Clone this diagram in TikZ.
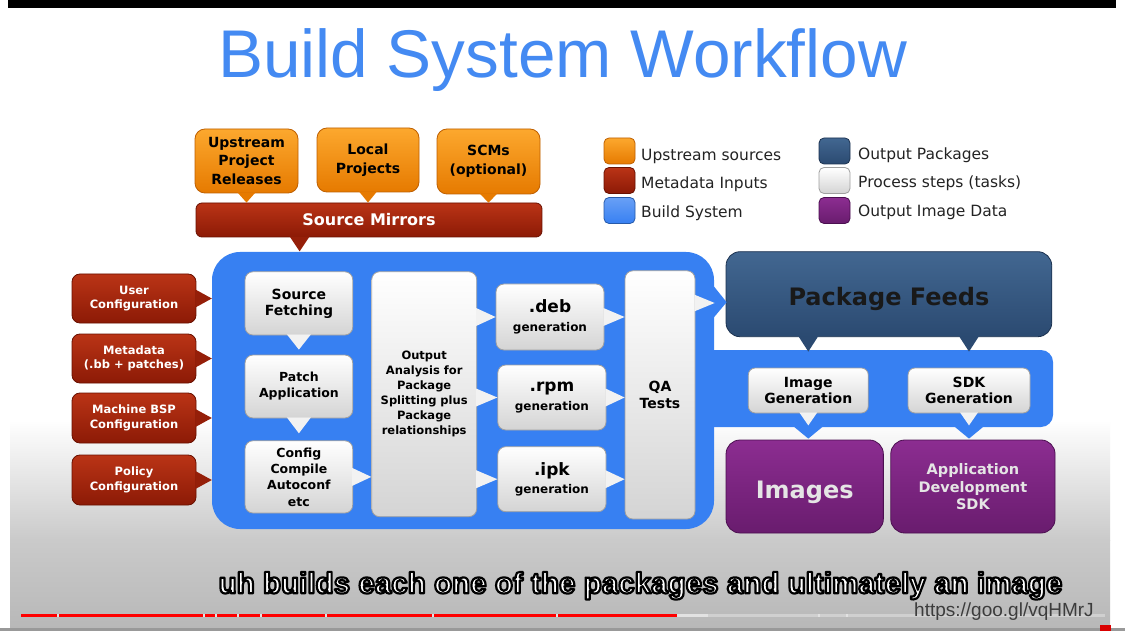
\documentclass[tikz,border=0pt]{standalone}
\usepackage{graphicx}
\usepackage{fontspec}
\setmainfont{DejaVu Sans}
\newfontfamily\arialfont{Liberation Sans}
\usetikzlibrary{calc}
\definecolor{titleblue}{RGB}{68,138,242}
\definecolor{bsblue}{RGB}{55,128,242}
\definecolor{orT}{RGB}{252,168,46}
\definecolor{orB}{RGB}{230,122,0}
\definecolor{orD}{RGB}{190,95,0}
\definecolor{rdT}{RGB}{186,52,22}
\definecolor{rdB}{RGB}{140,26,6}
\definecolor{rdD}{RGB}{105,16,0}
\definecolor{slT}{RGB}{66,103,145}
\definecolor{slB}{RGB}{43,74,113}
\definecolor{slD}{RGB}{28,50,80}
\definecolor{puT}{RGB}{140,45,145}
\definecolor{puB}{RGB}{105,28,110}
\definecolor{puD}{RGB}{75,15,80}
\definecolor{whB}{RGB}{212,212,212}
\definecolor{whD}{RGB}{160,160,160}
\definecolor{bgG}{RGB}{202,202,202}
\definecolor{bgH}{RGB}{184,184,184}
\definecolor{legtext}{RGB}{35,35,35}
\definecolor{urlgray}{RGB}{60,60,60}
\definecolor{barlight}{RGB}{226,226,226}
\definecolor{bargray}{RGB}{208,208,208}
\newcommand{\setfs}[2]{\fontsize{#1}{#2}\selectfont}
\newcommand{\myoutline}[1]{\leavevmode\textcolor{white}{\special{pdf:literal direct 0 G 2.2 w 1 j 2 Tr}#1\special{pdf:literal direct 0 Tr 1 w}}}
\tikzset{
 lbl/.style={inner sep=0pt, align=center},
 orbox/.style={lbl, draw=orD, line width=0.8pt, top color=orT, bottom color=orB, rounded corners=10pt, text=black},
 rdbox/.style={lbl, draw=rdD, line width=0.8pt, top color=rdT, bottom color=rdB, rounded corners=8pt, text=white},
 whbox/.style={lbl, draw=whD, line width=0.8pt, top color=white, bottom color=whB, rounded corners=8pt, text=black},
 slbox/.style={lbl, draw=slD, line width=0.8pt, top color=slT, bottom color=slB, rounded corners=14pt, text=black!90},
 pubox/.style={lbl, draw=puD, line width=0.8pt, top color=puT, bottom color=puB, rounded corners=14pt, text=white!90!black},
 legsq/.style={minimum width=31pt, minimum height=26pt, rounded corners=5pt, line width=0.8pt, inner sep=0pt},
 legtxt/.style={anchor=base west, inner sep=0pt, text=legtext, font=\setfs{15.5}{18}},
 ortip/.style={fill=orB},
 rdtip/.style={fill=rdB!80!rdT},
 whtip/.style={fill=white!95!black},
 sltip/.style={fill=slB},
 bltip/.style={fill=bsblue},
}
\begin{document}
\begin{tikzpicture}[x=1pt,y=-1pt]
\useasboundingbox (0,0) rectangle (1125,631);
% background
\fill[white] (0,0) rectangle (1125,631);
\fill[black] (8,0) rectangle (1116,8);
\shade[top color=white, bottom color=bgG] (10,420) rectangle (1110,540);
\shade[top color=bgG, bottom color=bgH] (10,540) rectangle (1110,628);
\fill[black!40] (0,628) rectangle (1125,631);
% title
\node[anchor=base, inner sep=0pt, text=titleblue, font=\arialfont\setfs{67.5}{72}] (title) at (562.5,78) {Build System Workflow};
% build system area
\node[fill=bsblue, rounded corners=28pt, minimum width=502pt, minimum height=277pt, inner sep=0pt] (bsys) at (463,390.5) {};
\node[fill=bsblue, rounded corners=12pt, minimum width=363pt, minimum height=77pt, inner sep=0pt] (band) at (871.5,388.5) {};
% upstream sources
\node[orbox, minimum width=103pt, minimum height=64pt, font=\bfseries\setfs{14}{18.5}] (u1) at (246.5,161) {\raisebox{-2pt}{\shortstack{Upstream\\[1.5pt]Project\\[1.5pt]Releases}}};
\node[orbox, minimum width=102pt, minimum height=64pt, font=\bfseries\setfs{14}{18.5}] (u2) at (368,160) {Local\\Projects};
\node[orbox, minimum width=103pt, minimum height=65pt, font=\bfseries\setfs{14}{18.5}] (u3) at (488.5,161.5) {SCMs\\(optional)};
\node[rdbox, rounded corners=6pt, minimum width=346pt, minimum height=34pt, font=\bfseries\setfs{16}{19}] (sm) at (369,220) {\raisebox{-2pt}{Source Mirrors}};
% legend
\node[legsq, draw=orD, top color=orT, bottom color=orB] (l1) at (619.5,151) {};
\node[legsq, draw=rdD, top color=rdT, bottom color=rdB] (l2) at (619.5,180.5) {};
\node[legsq, draw=bsblue!70!black, top color=bsblue!75!white, bottom color=bsblue] (l3) at (619.5,210.5) {};
\node[legsq, draw=slD, top color=slT, bottom color=slB] (l4) at (834.5,151) {};
\node[legsq, draw=whD, top color=white, bottom color=whB] (l5) at (834.5,180.5) {};
\node[legsq, draw=puD, top color=puT, bottom color=puB] (l6) at (834.5,210.5) {};
\node[legtxt] (t1) at (641,161) {Upstream sources};
\node[legtxt] (t2) at (641,188.5) {Metadata Inputs};
\node[legtxt] (t3) at (641,217.5) {Build System};
\node[legtxt] (t4) at (858,159.5) {Output Packages};
\node[legtxt] (t5) at (858,187.5) {Process steps (tasks)};
\node[legtxt] (t6) at (858,216.5) {Output Image Data};
% metadata inputs
\node[rdbox, minimum width=124pt, minimum height=49pt, font=\bfseries\setfs{11.5}{14.5}] (r1) at (134,298.5) {User\\Configuration};
\node[rdbox, minimum width=124pt, minimum height=49pt, font=\bfseries\setfs{11.5}{14.5}] (r2) at (134,358.5) {Metadata\\(.bb + patches)};
\node[rdbox, minimum width=124pt, minimum height=50pt, font=\bfseries\setfs{11.5}{14.5}] (r3) at (134,418) {Machine BSP\\Configuration};
\node[rdbox, minimum width=124pt, minimum height=50pt, font=\bfseries\setfs{11.5}{14.5}] (r4) at (134,480) {Policy\\Configuration};
% process steps
\node[whbox, minimum width=107.7pt, minimum height=63.3pt, font=\bfseries\setfs{14}{18}] (sf) at (298.9,303.4) {\raisebox{-2pt}{\shortstack{Source\\[2pt]Fetching}}};
\node[whbox, minimum width=107.7pt, minimum height=63pt, font=\bfseries\setfs{12.5}{16}] (pa) at (298.9,386.5) {Patch\\Application};
\node[whbox, minimum width=107.7pt, minimum height=72.3pt, font=\bfseries\setfs{12.5}{16.3}] (cc) at (298.9,476.9) {Config\\Compile\\Autoconf\\etc};
\node[whbox, minimum width=105pt, minimum height=245pt, font=\bfseries\setfs{11.5}{15}] (oa) at (424.2,394.2) {Output\\Analysis for\\Package\\Splitting plus\\Package\\relationships};
\node[whbox, minimum width=108pt, minimum height=66pt, font=\bfseries\setfs{12}{18.5}] (deb) at (550,317) {{\setfs{17}{18}.deb}\\generation};
\node[whbox, minimum width=108.3pt, minimum height=65pt, font=\bfseries\setfs{12}{18.5}] (rpm) at (551.9,397.5) {{\setfs{17}{18}.rpm}\\generation};
\node[whbox, minimum width=108.3pt, minimum height=65pt, font=\bfseries\setfs{12}{18.5}] (ipk) at (551.9,479.2) {{\setfs{17}{18}.ipk}\\generation};
\node[whbox, minimum width=70pt, minimum height=248.3pt, font=\bfseries\setfs{14}{17.5}] (qa) at (660,394.9) {QA\\Tests};
% outputs
\node[slbox, minimum width=325.7pt, minimum height=85pt, font=\bfseries\setfs{24}{28}] (pf) at (888.9,294.2) {\raisebox{-11.5pt}[0pt][0pt]{Package Feeds}};
\node[whbox, rounded corners=7pt, minimum width=120pt, minimum height=45pt, font=\bfseries\setfs{14}{16.7}] (ig) at (808.3,390.5) {Image\\Generation};
\node[whbox, rounded corners=7pt, minimum width=122pt, minimum height=45pt, font=\bfseries\setfs{14}{16.7}] (sdk) at (969,390.5) {SDK\\Generation};
\node[pubox, minimum width=157.3pt, minimum height=93pt, font=\bfseries\setfs{24}{28}] (img) at (804.7,486.5) {\raisebox{-12pt}[0pt][0pt]{Images}};
\node[pubox, minimum width=164.3pt, minimum height=93pt, font=\bfseries\setfs{14.5}{18}] (app) at (972.9,486.5) {\raisebox{-3pt}{\shortstack{Application\\[0.5pt]Development\\[0.5pt]SDK}}};
% connectors: upstream -> mirrors -> build system
\foreach \u in {u1,u2,u3}{
  \fill[ortip] ($(\u.south)+(-9,-1)$) -- ($(\u.south)+(9,-1)$) -- (\u.south |- sm.north) -- cycle;
}
\fill[rdtip] ($(sm.south west)+(94,-1)$) -- ($(sm.south west)+(114,-1)$) -- ($(sm.south west)+(104,14)$) -- cycle;
\foreach \r in {r1,r2,r3,r4}{
  \fill[rdtip] ($(\r.east)+(-1,-9)$) -- ($(\r.east)+(-1,9)$) -- (bsys.west |- \r.east) -- cycle;
}
% process flow
\fill[whtip] ($(sf.south)+(-12,-1)$) -- ($(sf.south)+(12,-1)$) -- ($(pa.north)+(0,-5)$) -- cycle;
\fill[whtip] ($(pa.south)+(-12,-1)$) -- ($(pa.south)+(12,-1)$) -- ($(cc.north)+(0,-7)$) -- cycle;
\fill[whtip] ($(cc.east)+(-1,-9)$) -- ($(cc.east)+(-1,9)$) -- (oa.west |- cc.east) -- cycle;
\foreach \p in {deb,rpm,ipk}{
  \fill[whtip] ($(oa.east |- \p.west)+(-1,-9)$) -- ($(oa.east |- \p.west)+(-1,9)$) -- (\p.west) -- cycle;
  \fill[whtip] ($(\p.east)+(-1,-9)$) -- ($(\p.east)+(-1,9)$) -- (qa.west |- \p.east) -- cycle;
}
% build system -> package feeds
\fill[bltip] ($(bsys.north east)+(-4,30)$) -- ($(pf.west)+(1,8)$) -- ($(bsys.north east)+(-4,70)$) -- cycle;
\fill[whtip] ($(qa.north east)+(-1,24.3)$) -- ($(pf.west)+(-11,8.8)$) -- ($(qa.north east)+(-1,41)$) -- cycle;
% package feeds -> generation
\foreach \g in {ig,sdk}{
  \fill[sltip] ($(pf.south -| \g.north)+(-10,-1)$) -- ($(pf.south -| \g.north)+(10,-1)$) -- ($(\g.north)+(0,-16)$) -- cycle;
}
% generation -> images / sdk
\fill[bltip] ($(band.south -| ig.south)+(-15,-1)$) -- ($(band.south -| ig.south)+(15,-1)$) -- ($(img.north -| ig.south)+(0,-1)$) -- cycle;
\fill[bltip] ($(band.south -| sdk.south)+(-15,-1)$) -- ($(band.south -| sdk.south)+(15,-1)$) -- ($(app.north -| sdk.south)+(0,-1)$) -- cycle;
\foreach \g in {ig,sdk}{
  \fill[whtip] ($(\g.south)+(-9,-1)$) -- ($(\g.south)+(9,-1)$) -- ($(\g.south)+(0,12)$) -- cycle;
}
% video overlay: subtitle, progress bar, url
\node[anchor=base, inner sep=0pt, font=\arialfont\bfseries\setfs{29.6}{32}] (sub) at (640.5,593.3) {\myoutline{uh builds each one of the packages and ultimately an image}};
\fill[red] (21,614) rectangle (677,617);
\foreach \gx in {57,203,215,237,260,325,432,556}{
  \fill[barlight] (\gx,614) rectangle (\gx+1.5,617);
}
\fill[barlight] (677,614) rectangle (708,617);
\fill[bargray] (708,614) rectangle (1105,617);
\fill[barlight] (818,614) rectangle (819.5,617);
\fill[barlight] (846,614) rectangle (847.5,617);
\node[anchor=base west, inner sep=0pt, text=urlgray, font=\arialfont\setfs{19}{22}] (url) at (914,616.5) {https://goo.gl/vqHMrJ};
\fill[red!85!black] (1100,625) rectangle (1111,631);
\end{tikzpicture}
\end{document}
